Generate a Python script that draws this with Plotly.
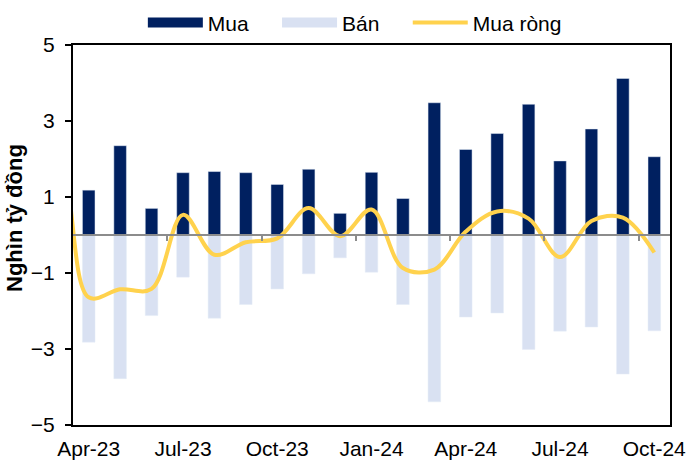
import plotly.graph_objects as go

months = ["Feb-23", "Mar-23", "Apr-23", "May-23", "Jun-23", "Jul-23", "Aug-23", "Sep-23", "Oct-23",
          "Nov-23", "Dec-23", "Jan-24", "Feb-24", "Mar-24", "Apr-24", "May-24", "Jun-24",
          "Jul-24", "Aug-24", "Sep-24", "Oct-24"]
mua = [None, None, 1.18, 2.35, 0.70, 1.64, 1.67, 1.64, 1.33, 1.73, 0.57, 1.65, 0.96, 3.48,
       2.25, 2.67, 3.44, 1.95, 2.79, 4.12, 2.06]
ban = [None, None, -2.82, -3.78, -2.12, -1.11, -2.19, -1.83, -1.42, -1.02, -0.60, -0.98, -1.83,
       -4.39, -2.16, -2.05, -3.01, -2.53, -2.42, -3.66, -2.52]
mua_rong = [2.0, 2.0, -1.64, -1.43, -1.42, 0.53, -0.52, -0.19, -0.09, 0.71, -0.03, 0.67, -0.87,
            -0.91, 0.09, 0.62, 0.43, -0.58, 0.37, 0.46, -0.46]
tick_labels = ["Apr-23", "Jul-23", "Oct-23", "Jan-24", "Apr-24", "Jul-24", "Oct-24"]
y_ticks = [-5, -3, -1, 1, 3, 5]
series_names = ["Mua", "Bán", "Mua ròng"]

C_MUA = "#002060"
C_BAN = "#D9E1F2"
C_NET = "#FFD24D"
FONT = "Liberation Sans, Arial, sans-serif"
PAD = "\u00a0" * 4

x = list(range(len(months)))
tickvals = [months.index(m) for m in tick_labels]
boundary_ticks = [v - 0.5 for v in tickvals[1:]]

fig = go.Figure()
fig.add_trace(go.Bar(x=x, y=mua, marker_color=C_MUA, width=0.4, showlegend=False, name=series_names[0]))
fig.add_trace(go.Bar(x=x, y=ban, marker_color=C_BAN, width=0.4, showlegend=False, name=series_names[1]))
fig.add_trace(go.Scatter(x=x, y=mua_rong, mode="lines", line=dict(color=C_NET, width=4, shape="spline", smoothing=1.0),
                         showlegend=False, name=series_names[2]))
# legend entries
for nm, col, w in [(series_names[0] + PAD, C_MUA, 11), (series_names[1] + PAD, C_BAN, 11),
                   (series_names[2], C_NET, 4)]:
    fig.add_trace(go.Scatter(x=[None], y=[None], mode="lines", line=dict(color=col, width=w), name=nm))
# zero axis with tick marks
fig.add_trace(go.Scatter(x=[None], y=[None], xaxis="x2", showlegend=False))

rng = [tickvals[0] - 0.5, len(months) - 0.5]
fig.update_layout(
    width=687, height=461,
    margin=dict(l=73, r=17, t=45, b=36, autoexpand=False),
    paper_bgcolor="white", plot_bgcolor="white",
    font=dict(family=FONT, size=21, color="black"),
    barmode="overlay",
    showlegend=True,
    legend=dict(orientation="h", x=0.117, xanchor="left", y=1.058, yanchor="middle",
                font=dict(size=21), itemwidth=55, bgcolor="rgba(0,0,0,0)"),
    xaxis=dict(range=rng, tickvals=tickvals, ticktext=tick_labels, ticks="", showgrid=False,
               zeroline=False, showline=True, linecolor="black", linewidth=2, mirror=True,
               ticklabelstandoff=4),
    xaxis2=dict(range=rng, overlaying="x", anchor="free", position=0.5, side="bottom",
                tickvals=boundary_ticks, showticklabels=False, ticks="outside", ticklen=5,
                tickwidth=2, tickcolor="#8C8C8C", showline=True, linecolor="#8C8C8C", linewidth=2,
                showgrid=False, zeroline=False),
    yaxis=dict(range=[-5, 5], tickvals=y_ticks, ticks="outside", ticklen=6, tickwidth=2,
               tickcolor="black", showgrid=False, zeroline=False, showline=True,
               linecolor="black", linewidth=2, mirror=True, ticklabelstandoff=6),
    annotations=[dict(text="<b>Nghìn tỷ đồng</b>", textangle=-90, xref="paper", yref="paper",
                      x=-0.097, y=0.545, xanchor="center", yanchor="middle", showarrow=False,
                      font=dict(size=22))],
)
fig.write_html("out.html", config={"displayModeBar": False},
               post_script="document.body.style.margin='0';document.body.style.padding='0';")
